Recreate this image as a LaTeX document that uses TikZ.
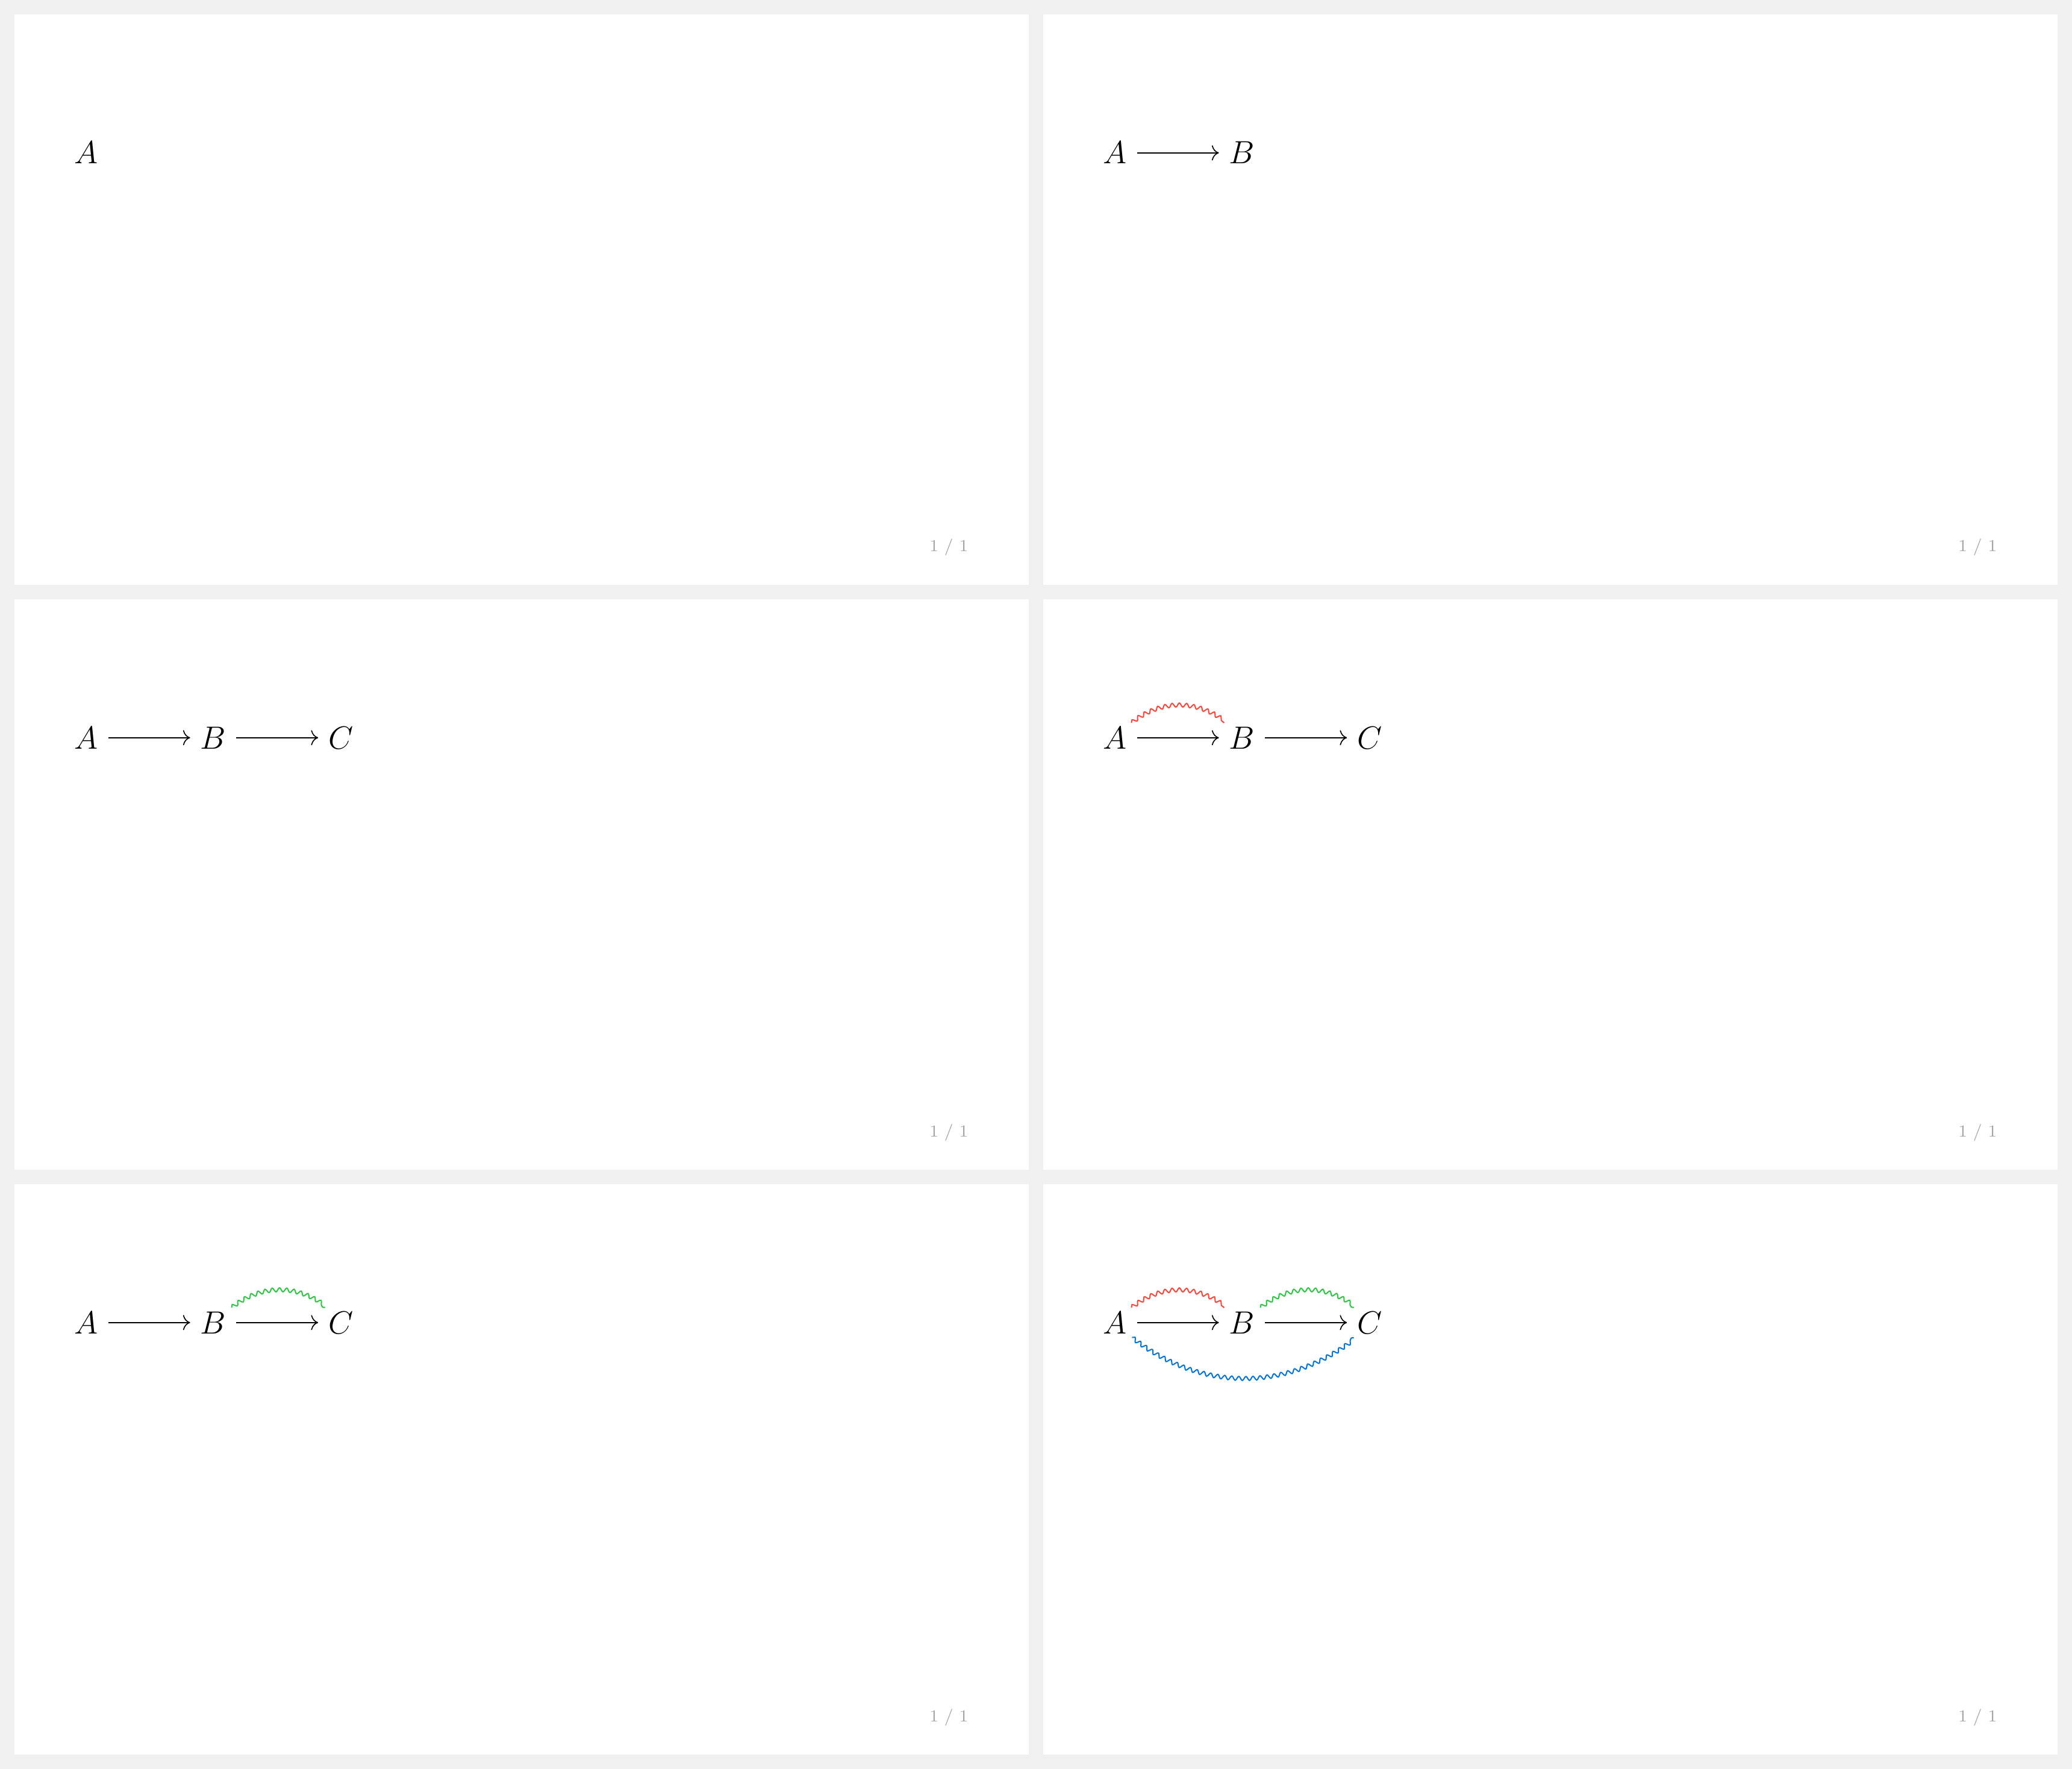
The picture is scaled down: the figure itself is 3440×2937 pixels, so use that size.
\documentclass[tikz,border=0pt]{standalone}
\usetikzlibrary{arrows.meta,decorations.pathmorphing}
\definecolor{bggray}{RGB}{240,240,240}
\definecolor{pagegray}{RGB}{165,165,165}
\definecolor{squigred}{RGB}{255,69,58}
\definecolor{squiggreen}{RGB}{40,200,64}
\definecolor{squigblue}{RGB}{0,116,224}
\tikzset{
  obj/.style={anchor=base, inner xsep=4.45pt, inner ysep=1.57pt, font=\fontsize{14.4}{17}\selectfont},
  mor/.style={-{Computer Modern Rightarrow[length=3.2pt,width=6.8pt]}, line width=0.45pt},
  squig/.style={decorate, decoration={snake, amplitude=0.9pt, segment length=3.2pt}, line width=0.55pt},
  panelbox/.style={fill=white, draw=none},
  pagenum/.style={anchor=base east, text=pagegray, inner sep=0pt, font=\fontsize{7.5}{9}\selectfont}
}
\begin{document}
\begin{tikzpicture}[x=0.27034pt, y=-0.27034pt]
\useasboundingbox (0,0) rectangle (3440,2937);
\fill[bggray] (0,0) rectangle (3440,2937);

% Panel 1
\begin{scope}[shift={(24,24)}]
  \fill[panelbox] (0,0) rectangle (1684,947);
  \node[obj] (p1A) at (119,248) {$A$};
  \node[pagenum] (p1n) at (1584,892) {1 / 1};
\end{scope}

% Panel 2
\begin{scope}[shift={(1732,24)}]
  \fill[panelbox] (0,0) rectangle (1684,947);
  \node[obj] (p2A) at (119,248) {$A$};
  \node[obj] (p2B) at (330,248) {$B$};
  \draw[mor] (p2A) -- (p2B);
  \node[pagenum] (p2n) at (1584,892) {1 / 1};
\end{scope}

% Panel 3
\begin{scope}[shift={(24,995)}]
  \fill[panelbox] (0,0) rectangle (1684,947);
  \node[obj] (p3A) at (119,248) {$A$};
  \node[obj] (p3B) at (330,248) {$B$};
  \node[obj] (p3C) at (542,248) {$C$};
  \draw[mor] (p3A) -- (p3B);
  \draw[mor] (p3B) -- (p3C);
  \node[pagenum] (p3n) at (1584,892) {1 / 1};
\end{scope}

% Panel 4
\begin{scope}[shift={(1732,995)}]
  \fill[panelbox] (0,0) rectangle (1684,947);
  \node[obj] (p4A) at (119,248) {$A$};
  \node[obj] (p4B) at (330,248) {$B$};
  \node[obj] (p4C) at (542,248) {$C$};
  \draw[mor] (p4A) -- (p4B);
  \draw[mor] (p4B) -- (p4C);
  \draw[squig, squigred] (p4A.42.7) to[bend left=38] (p4B.140);
  \node[pagenum] (p4n) at (1584,892) {1 / 1};
\end{scope}

% Panel 5
\begin{scope}[shift={(24,1966)}]
  \fill[panelbox] (0,0) rectangle (1684,947);
  \node[obj] (p5A) at (119,248) {$A$};
  \node[obj] (p5B) at (330,248) {$B$};
  \node[obj] (p5C) at (542,248) {$C$};
  \draw[mor] (p5A) -- (p5B);
  \draw[mor] (p5B) -- (p5C);
  \draw[squig, squiggreen] (p5B.39.6) to[bend left=38] (p5C.137.7);
  \node[pagenum] (p5n) at (1584,892) {1 / 1};
\end{scope}

% Panel 6
\begin{scope}[shift={(1732,1966)}]
  \fill[panelbox] (0,0) rectangle (1684,947);
  \node[obj] (p6A) at (119,248) {$A$};
  \node[obj] (p6B) at (330,248) {$B$};
  \node[obj] (p6C) at (542,248) {$C$};
  \draw[mor] (p6A) -- (p6B);
  \draw[mor] (p6B) -- (p6C);
  \draw[squig, squigred] (p6A.42.7) to[bend left=38] (p6B.140);
  \draw[squig, squiggreen] (p6B.39.6) to[bend left=38] (p6C.137.7);
  \draw[squig, squigblue] (p6A.-41.6) to[bend right=38] (p6C.-137.7);
  \node[pagenum] (p6n) at (1584,892) {1 / 1};
\end{scope}
\end{tikzpicture}
\end{document}
